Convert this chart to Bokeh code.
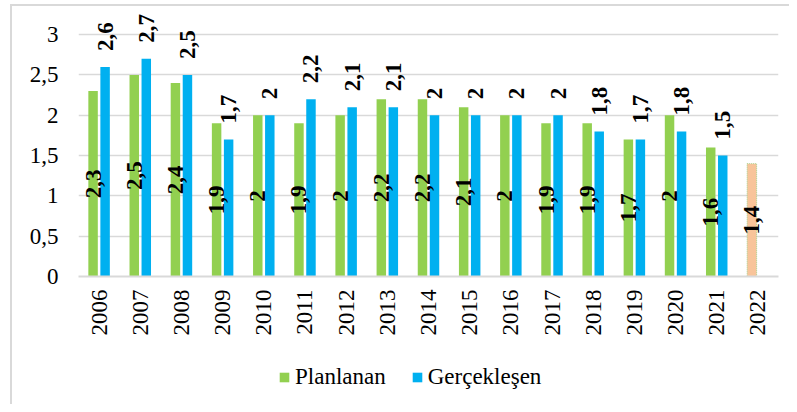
import math
from bokeh.plotting import figure
from bokeh.layouts import column
from bokeh.models import ColumnDataSource, FactorRange, Range1d, FixedTicker, Legend, LegendItem
from bokeh.transform import dodge
from bokeh.core.properties import value
from bokeh.embed import file_html
from bokeh.resources import INLINE

years = [str(y) for y in range(2006, 2023)]
planlanan = [2.3, 2.5, 2.4, 1.9, 2.0, 1.9, 2.0, 2.2, 2.2, 2.1, 2.0, 1.9, 1.9, 1.7, 2.0, 1.6, 1.4]
gerceklesen = [2.6, 2.7, 2.5, 1.7, 2.0, 2.2, 2.1, 2.1, 2.0, 2.0, 2.0, 2.0, 1.8, 1.7, 1.8, 1.5]
y_ticks = [0, 0.5, 1, 1.5, 2, 2.5, 3]
series_names = ["Planlanan", "Gerçekleşen"]

GREEN = "#92D050"
BLUE = "#00B0F0"
ORANGE = "#F8C49A"
FONT = "Liberation Serif"


def fmt(v):
    return ("%g" % v).replace(".", ",")


n_g = len(gerceklesen)
src_p = ColumnDataSource(dict(year=years[:n_g], v=planlanan[:n_g],
                              mid=[v / 2 for v in planlanan[:n_g]],
                              lbl=[fmt(v) for v in planlanan[:n_g]]))
src_h = ColumnDataSource(dict(year=years[n_g:], v=planlanan[n_g:],
                              mid=[v / 2 for v in planlanan[n_g:]],
                              lbl=[fmt(v) for v in planlanan[n_g:]]))
src_g = ColumnDataSource(dict(year=years[:n_g], v=gerceklesen,
                              lbl=[fmt(v) for v in gerceklesen]))

p = figure(width=777, height=354, x_range=FactorRange(*years, range_padding=0),
           y_range=Range1d(0, 3.3), output_backend="svg", toolbar_location=None,
           min_border_left=66, min_border_right=11, min_border_top=4, min_border_bottom=84)
p.outline_line_color = None
p.xgrid.grid_line_color = None
p.ygrid.grid_line_color = "#D9D9D9"
p.ygrid.grid_line_width = 1.6
p.ygrid.ticker = FixedTicker(ticks=y_ticks)

OFF = 0.146
W = 0.23
rg = p.vbar(x=dodge("year", -OFF, range=p.x_range), top="v", width=W, source=src_p,
            fill_color=GREEN, line_color=None)
rh = p.vbar(x=dodge("year", -OFF, range=p.x_range), top="v", width=W, source=src_h,
            fill_color=ORANGE, line_color="#A9D18E", line_dash="1 1", line_width=1)
rb = p.vbar(x=dodge("year", OFF, range=p.x_range), top="v", width=W, source=src_g,
            fill_color=BLUE, line_color=None)

common = dict(angle=math.pi / 2, text_font=value(FONT), text_font_style="bold",
              text_font_size="23px", text_color="black", text_baseline="middle")
p.text(x=dodge("year", -OFF, range=p.x_range), y="mid", text="lbl", source=src_p,
       text_align="center", **common)
p.text(x=dodge("year", -OFF, range=p.x_range), y="mid", text="lbl", source=src_h,
       text_align="center", **common)
p.text(x=dodge("year", OFF, range=p.x_range), y="v", text="lbl", source=src_g,
       text_align="left", y_offset=-16, **common)

p.yaxis.ticker = FixedTicker(ticks=y_ticks)
p.yaxis.major_label_overrides = {t: fmt(t) for t in y_ticks}
p.yaxis.axis_line_color = None
p.yaxis.major_tick_line_color = None
p.yaxis.minor_tick_line_color = None
p.yaxis.major_label_standoff = 14
p.yaxis.major_label_text_font = FONT
p.yaxis.major_label_text_font_size = "23px"
p.yaxis.major_label_text_color = "black"

p.xaxis.axis_line_color = "#D9D9D9"
p.xaxis.axis_line_width = 2
p.xaxis.major_tick_line_color = None
p.xaxis.minor_tick_line_color = None
p.xaxis.major_label_orientation = math.pi / 2
p.xaxis.major_label_standoff = 7
p.xaxis.major_label_text_font = FONT
p.xaxis.major_label_text_font_size = "23px"
p.xaxis.major_label_text_color = "black"

# legend panel (separate small figure below the chart)
pl = figure(width=777, height=44, x_range=Range1d(0, 1), y_range=Range1d(0, 1),
            output_backend="svg", toolbar_location=None, x_axis_type=None, y_axis_type=None,
            min_border_left=0, min_border_right=0, min_border_top=0, min_border_bottom=0)
pl.outline_line_color = None
pl.grid.visible = False
offscreen = ColumnDataSource(dict(x=[-5], top=[-5], bottom=[-6]))
lg = pl.vbar(x="x", top="top", bottom="bottom", width=0.1, source=offscreen,
             fill_color=GREEN, line_color=None)
lb = pl.vbar(x="x", top="top", bottom="bottom", width=0.1, source=offscreen,
             fill_color=BLUE, line_color=None)
legend = Legend(items=[LegendItem(label=series_names[0], renderers=[lg]),
                       LegendItem(label=series_names[1], renderers=[lb])],
                orientation="horizontal", location=(200, 14),
                glyph_width=12, glyph_height=12, label_standoff=5, spacing=25,
                padding=0, margin=0, border_line_color=None, background_fill_alpha=0,
                label_text_font=FONT, label_text_font_size="23px", label_text_color="black")
pl.add_layout(legend, "center")

layout = column(p, pl, spacing=0,
                styles={"margin-left": "10px", "margin-top": "4px",
                        "border-left": "2px solid #D9D9D9", "border-top": "2px solid #D9D9D9"})
open("out.html", "w").write(file_html(layout, INLINE))
